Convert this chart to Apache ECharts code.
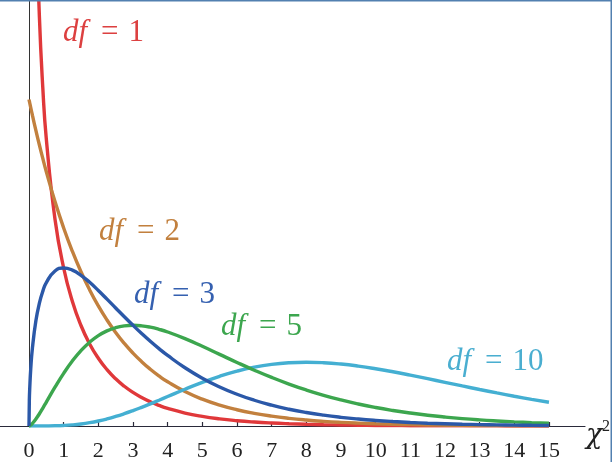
<!DOCTYPE html>
<html><head><meta charset="utf-8">
<script src="https://cdn.jsdelivr.net/npm/echarts@6/dist/echarts.min.js"></script>
<style>html,body{margin:0;padding:0;background:#fff}#c{width:612px;height:462px}</style>
</head><body><div id="c"></div>
<script>
const xs = [0,0.01,0.02,0.05,0.1,0.2,0.3,0.4,0.5,0.75,1,1.25,1.5,1.75,2,2.25,2.5,2.75,3,3.25,3.5,3.75,4,4.5,5,5.5,6,6.5,7,7.5,8,8.5,9,9.5,10,10.5,11,11.5,12,12.5,13,13.5,14,14.5,15];
const df1 = [null,3.9695,2.7929,1.7401,1.2000,0.8072,0.6269,0.5164,0.4394,0.3166,0.2420,0.1910,0.1539,0.1257,0.1038,0.08634,0.07229,0.06083,0.05139,0.04358,0.03706,0.03159,0.02700,0.01982,0.01465,0.01087,0.00811,0.00607,0.00455,0.00343,0.00258,0.00195,0.00148,0.00112,0.00085,0.00065,0.00049,0.00037,0.00029,0.00022,0.00017,0.00013,0.00010,0.00007,0.00006];
const df2 = [0.5,0.49751,0.49503,0.48766,0.47561,0.45242,0.43035,0.40937,0.38940,0.34364,0.30327,0.26763,0.23618,0.20843,0.18394,0.16233,0.14325,0.12642,0.11157,0.09846,0.08689,0.07668,0.06767,0.05270,0.04104,0.03196,0.02489,0.01939,0.01510,0.01176,0.00916,0.00713,0.00555,0.00433,0.00337,0.00262,0.00204,0.00159,0.00124,0.00097,0.00075,0.00059,0.00046,0.00036,0.00028];
const df3 = [0,0.03970,0.05586,0.08700,0.12000,0.16143,0.18807,0.20658,0.21970,0.23746,0.24197,0.23874,0.23080,0.22000,0.20756,0.19428,0.18072,0.16727,0.15418,0.14162,0.12970,0.11847,0.10798,0.08920,0.07322,0.05981,0.04865,0.03944,0.03187,0.02569,0.02067,0.01659,0.01330,0.01064,0.00850,0.00679,0.00541,0.00431,0.00343,0.00272,0.00216,0.00172,0.00136,0.00108,0.00086];
const df5 = [0,0.00013,0.00037,0.00145,0.00400,0.01076,0.01881,0.02754,0.03662,0.05937,0.08066,0.09948,0.11540,0.12833,0.13837,0.14571,0.15060,0.15333,0.15418,0.15342,0.15132,0.14809,0.14397,0.13380,0.12203,0.10965,0.09730,0.08545,0.07436,0.06423,0.05512,0.04701,0.03990,0.03369,0.02833,0.02377,0.01984,0.01652,0.01372,0.01133,0.00936,0.00774,0.00635,0.00522,0.00430];
const df10 = [0,0,0,0,0,0,0.00001,0.00003,0.00006,0.00028,0.00079,0.00170,0.00311,0.00509,0.00766,0.01083,0.01457,0.01883,0.02353,0.02861,0.03395,0.03949,0.04511,0.05628,0.06680,0.07617,0.08402,0.09012,0.09441,0.09689,0.09769,0.09695,0.09490,0.09176,0.08773,0.08306,0.07791,0.07249,0.06693,0.06135,0.05590,0.05064,0.04562,0.04087,0.03645];
const tickValues = [0,1,2,3,4,5,6,7,8,9,10,11,12,13,14,15];
const seriesNames = ['df = 1','df = 2','df = 10','df = 5','df = 3'];
const seriesData = [df1, df2, df10, df5, df3];
const seriesColors = ['#e0383a','#c2803e','#44afd2','#3ca64e','#2b58a8'];
const labelNums = ['1','2','3','5','10'];
const labelColors = ['#dc4040','#c2803e','#3560b0','#3ca64e','#4aaed0'];
const labelPos = [[63,33],[99,232],[134,295],[221,327],[447,362]];

const chart = echarts.init(document.getElementById('c'), null, {renderer:'canvas'});
const serif = 'Liberation Serif';
const series = seriesData.map((ys, k) => ({
  name: seriesNames[k], type: 'line', smooth: true, showSymbol: false, symbol: 'none',
  clip: true, connectNulls: false,
  lineStyle: {color: seriesColors[k], width: 3.4},
  data: xs.map((x, i) => ys[i] === null ? null : [x, ys[i]]).filter(d => d !== null),
  animation: false, z: 2 + k
}));
const graphics = labelNums.map((n, k) => ({
  type: 'text', x: labelPos[k][0], y: labelPos[k][1],
  style: {
    text: '{i|df}{e|=}{n|' + n + '}',
    verticalAlign: 'middle', align: 'left',
    fill: labelColors[k],
    rich: {
      i: {fontFamily: serif, fontStyle: 'italic', fontSize: 31, fill: labelColors[k], padding: [0, 4, 0, 0]},
      e: {fontFamily: serif, fontSize: 31, fill: labelColors[k], padding: [0, 10, 0, 10]},
      n: {fontFamily: serif, fontSize: 31, fill: labelColors[k]}
    }
  }, z: 100
}));
graphics.push({type: 'text', x: 586, y: 436, style: {text: 'χ', fontFamily: 'DejaVu Serif', fontStyle: 'italic', fontSize: 27, fill: '#222', verticalAlign: 'middle', align: 'left'}, z: 100});
graphics.push({type: 'text', x: 602, y: 427, style: {text: '2', fontFamily: serif, fontSize: 16, fill: '#222', verticalAlign: 'middle', align: 'left'}, z: 100});
graphics.push({type: 'polyline', shape: {points: [[0, 0.75], [611.25, 0.75], [611.25, 462]]}, style: {stroke: '#5280b0', lineWidth: 1.5, fill: null}, z: 100});

chart.setOption({
  animation: false,
  backgroundColor: '#fff',
  grid: {left: 0, right: 27, top: 0, bottom: 34, containLabel: false},
  xAxis: {
    type: 'value', min: -0.8365, max: 16.04,
    axisLine: {show: true, onZero: true, lineStyle: {color: '#2a2a3a', width: 1.2}},
    axisTick: {show: true, inside: true, length: 4, customValues: tickValues, lineStyle: {color: '#2a2a3a', width: 1.2}},
    axisLabel: {show: true, customValues: tickValues, margin: 14, fontFamily: serif, fontSize: 22, color: '#222'},
    splitLine: {show: false}
  },
  yAxis: {
    type: 'value', min: 0, max: 0.6524,
    axisLine: {show: true, onZero: true, lineStyle: {color: '#333', width: 1}},
    axisTick: {show: false}, axisLabel: {show: false}, splitLine: {show: false}
  },
  series: series,
  graphic: graphics
});
</script></body></html>
